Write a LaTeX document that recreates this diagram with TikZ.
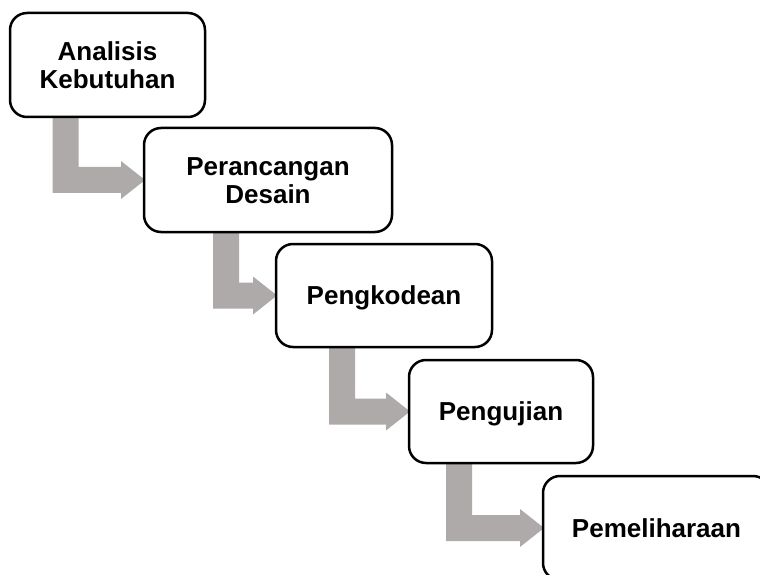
\documentclass[tikz,border=0pt]{standalone}
\usepackage{fontspec}
\setmainfont{Liberation Sans}
\usetikzlibrary{calc}
\definecolor{flowgray}{RGB}{174,170,170}
\tikzset{
  stagebox/.style={draw=black, line width=2.5pt, rounded corners=17pt, fill=white,
    align=center, font=\bfseries\fontsize{26}{27.5}\selectfont, inner sep=0pt},
  oneline/.style={text height=18.6pt, text depth=0pt},
  twoline/.style={text height=46.1pt, text depth=0pt},
  flow/.style={fill=flowgray, draw=none}
}
\begin{document}
\begin{tikzpicture}[x=1pt,y=1pt]
\clip (0,0) rectangle (760,574);
\fill[white] (0,0) rectangle (760,574);
% box centres (px, y measured from bottom)
\path
  (107.5,509) coordinate (c1)
  (268,394) coordinate (c2)
  (384,278.5) coordinate (c3)
  (501,162.5) coordinate (c4)
  (656.5,46) coordinate (c5);
% connectors (drawn first, under boxes)
\foreach \a/\b/\wb in {c1/c2/248, c2/c3/216, c3/c4/184, c4/c5/227}{
  \fill[flow] let \p1=(\a), \p2=(\b) in
    (\x1-55pt,\y1) -- (\x1-29pt,\y1) -- (\x1-29pt,\y2+13pt)
    -- (\x2-0.5*\wb pt-23pt,\y2+13pt) -- (\x2-0.5*\wb pt-23pt,\y2+19pt)
    -- (\x2-0.5*\wb pt+1pt,\y2) -- (\x2-0.5*\wb pt-23pt,\y2-19pt)
    -- (\x2-0.5*\wb pt-23pt,\y2-13pt) -- (\x1-55pt,\y2-13pt) -- cycle;
}
\node[stagebox, twoline, minimum width=195pt, minimum height=104pt] (b1) at (c1) {Analisis\\Kebutuhan};
\node[stagebox, twoline, minimum width=248pt, minimum height=104pt] (b2) at (c2) {Perancangan\\Desain};
\node[stagebox, oneline, minimum width=216pt, minimum height=103pt] (b3) at (c3) {Pengkodean};
\node[stagebox, oneline, minimum width=184pt, minimum height=103pt] (b4) at (c4) {Pengujian};
\node[stagebox, oneline, minimum width=227pt, minimum height=104pt] (b5) at (c5) {Pemeliharaan};
\end{tikzpicture}
\end{document}
